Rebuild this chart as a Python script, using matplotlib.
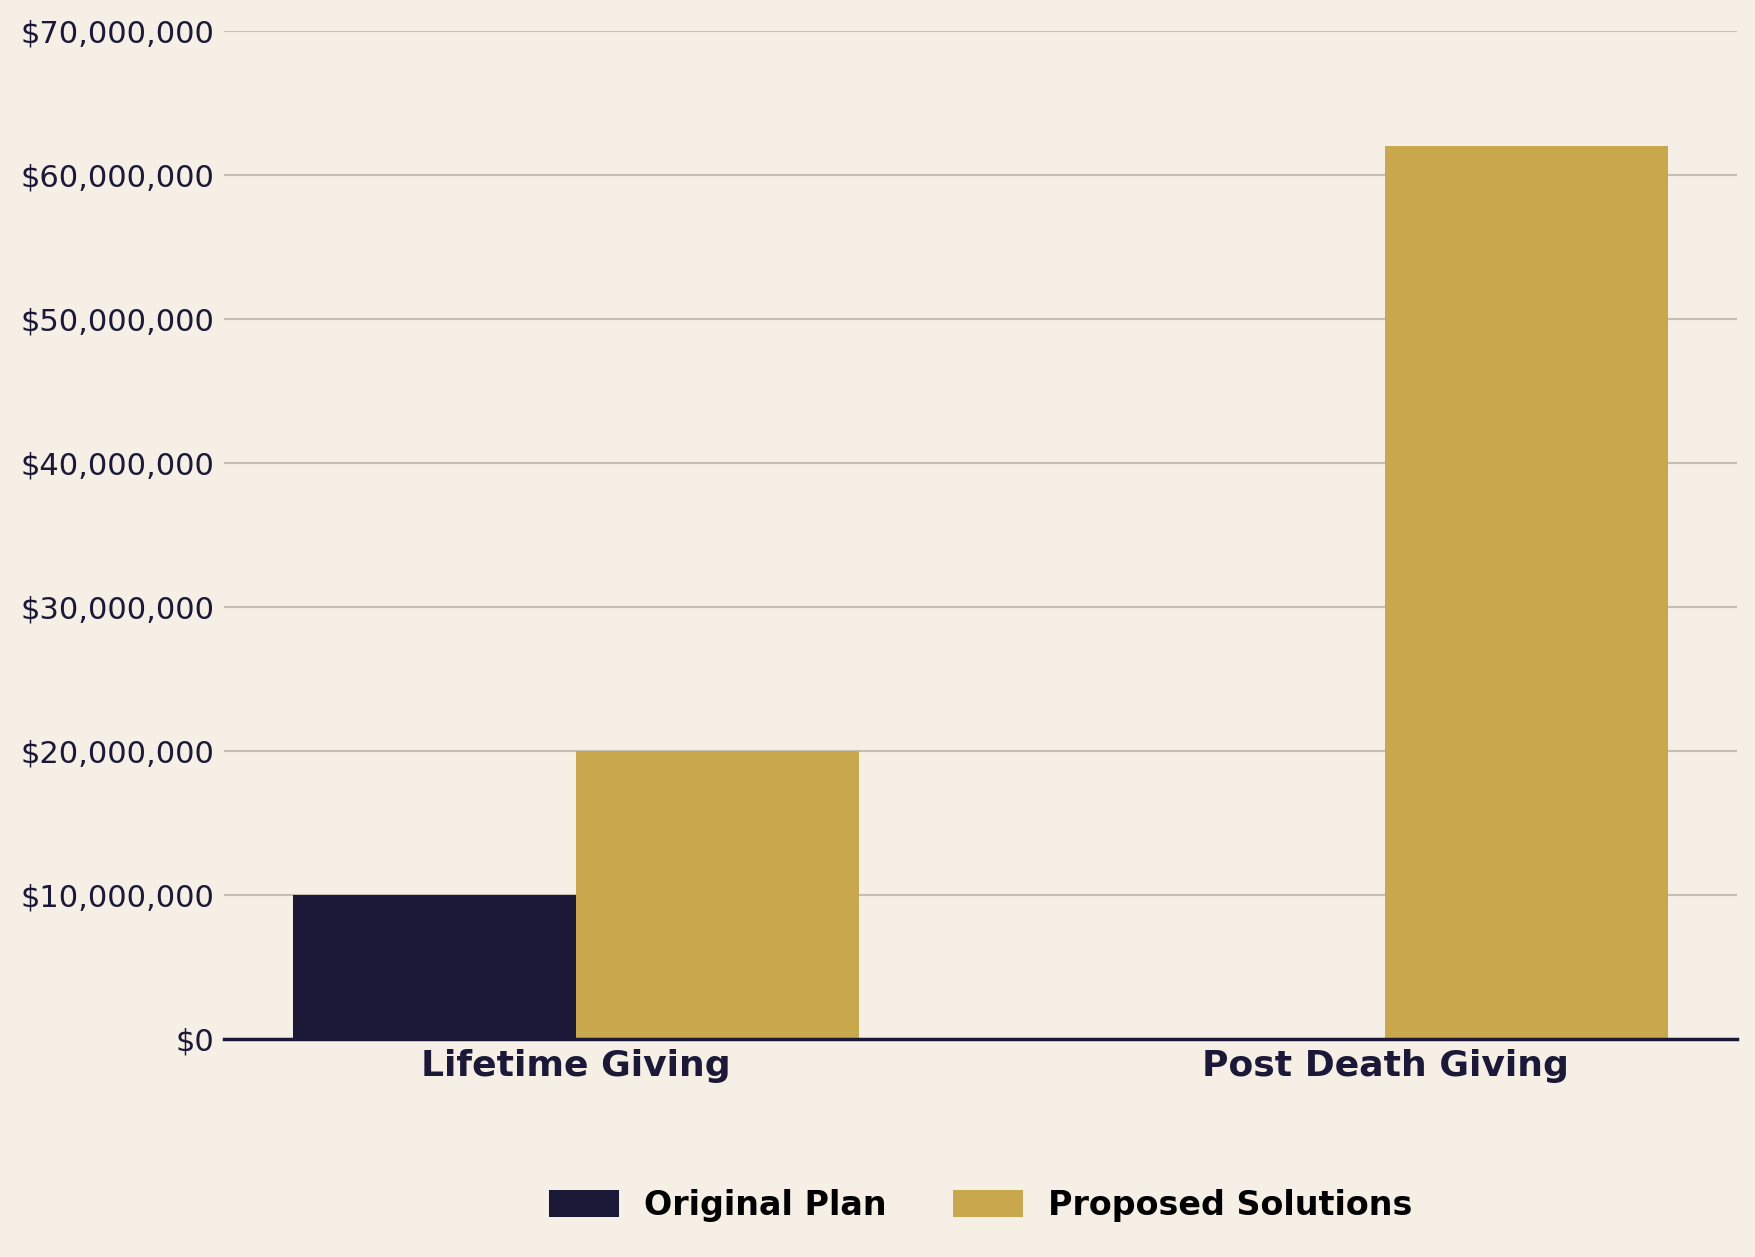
import numpy as np
import matplotlib.pyplot as plt
from matplotlib.ticker import FuncFormatter

# datos
categories = ['Lifetime Giving', 'Post Death Giving']
original_plan = [10000000, 0]
proposed_solutions = [20000000, 62000000]
series_names = ['Original Plan', 'Proposed Solutions']

navy = '#1b1838'
gold = '#c9a74d'
bg = '#f5efe6'

fig = plt.figure(figsize=(17.56, 12.57), dpi=100, facecolor=bg)
ax = fig.add_axes([0.1276, 0.1734, 0.8616, 0.8019])
ax.set_facecolor(bg)

x = np.arange(len(categories))
w = 0.35
ax.bar(x - w / 2, original_plan, w, color=navy, label=series_names[0], zorder=3)
ax.bar(x + w / 2, proposed_solutions, w, color=gold, label=series_names[1], zorder=3)

ax.set_ylim(0, 70000000)
ax.set_yticks(np.arange(0, 70000001, 10000000))
ax.yaxis.set_major_formatter(FuncFormatter(lambda v, p: '${:,.0f}'.format(v)))
ax.set_xticks(x)
ax.set_xticklabels(categories, fontsize=26, fontweight='bold', color=navy)
ax.tick_params(axis='y', labelsize=22, labelcolor=navy, length=0, pad=7)
ax.tick_params(axis='x', length=0, pad=7)

ax.grid(axis='y', color='#c4bfb1', linewidth=1.5, zorder=0)
for s in ['top', 'right', 'left']:
    ax.spines[s].set_visible(False)
ax.spines['bottom'].set_color(navy)
ax.spines['bottom'].set_linewidth(2.5)
ax.spines['bottom'].set_zorder(4)

ax.legend(loc='center', bbox_to_anchor=(0.5, -0.165), ncol=2, frameon=False,
          prop={'size': 24, 'weight': 'bold'}, handlelength=2.1, handleheight=0.85,
          columnspacing=2.0, handletextpad=0.75)

fig.savefig('out.png', dpi=100, facecolor=bg)
